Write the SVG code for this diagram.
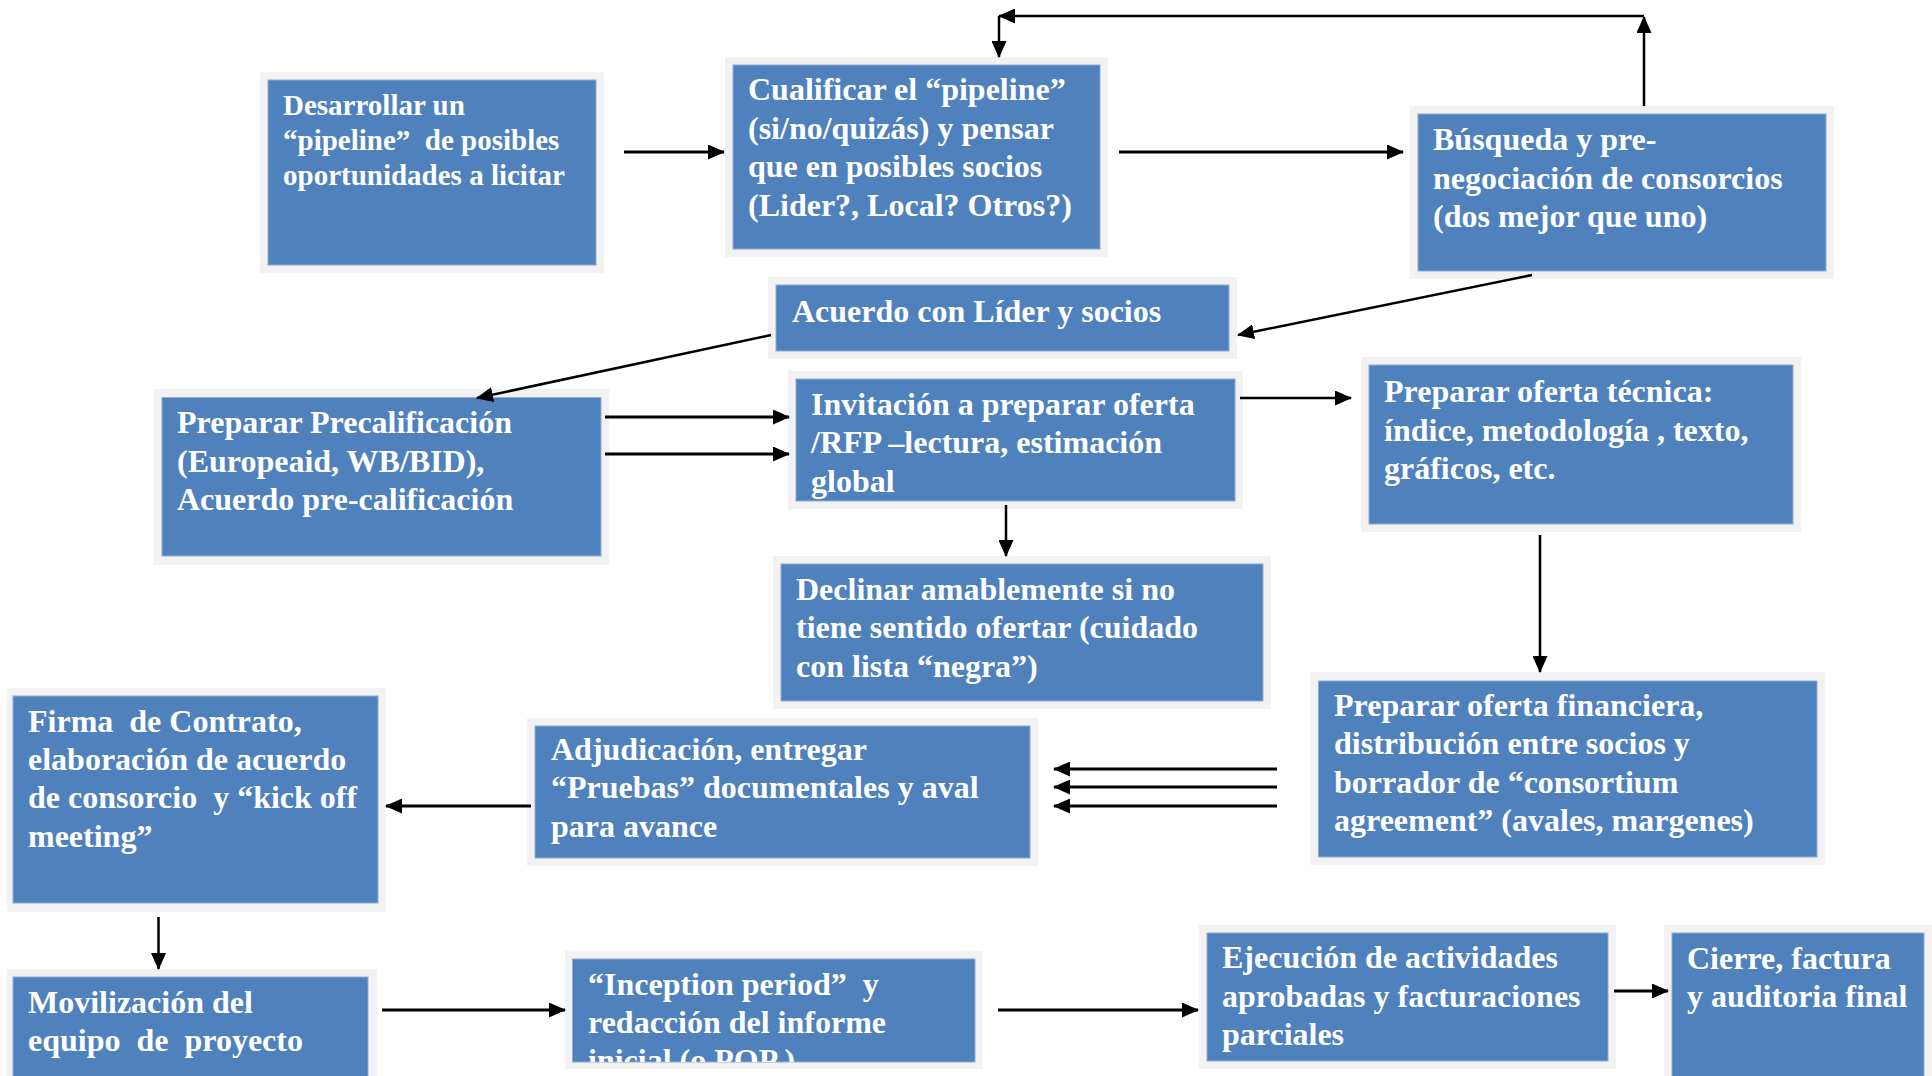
<svg xmlns="http://www.w3.org/2000/svg" width="1932" height="1076" viewBox="0 0 1932 1076">
<style>
.o{fill:#F2F2F2}
.i{fill:#4F81BD;stroke:#8EACD6;stroke-width:1}
.t{font-family:"Liberation Serif","Times New Roman",serif;font-weight:bold;font-size:32px;fill:#FFFFFF}
.s{font-size:29px}
.c{fill:none;stroke:#000;stroke-width:3}
.n{stroke-width:2.5}
</style>
<defs>
<marker id="ah" markerUnits="userSpaceOnUse" markerWidth="17" markerHeight="15" refX="16" refY="7.5" orient="auto"><path d="M0,0 L17,7.5 L0,15 Z" fill="#000"/></marker>
<clipPath id="clipInc"><rect x="572.5" y="959" width="402.5" height="103"/></clipPath>
</defs>
<rect width="1932" height="1076" fill="#FFFFFF"/>
<g id="n1">
<rect class="o" x="260" y="72" width="344" height="201"/>
<rect class="i" x="268" y="80" width="328" height="185"/>
<text class="t s" x="283" y="115" xml:space="preserve">Desarrollar un</text>
<text class="t s" x="283" y="150" xml:space="preserve">“pipeline”  de posibles</text>
<text class="t s" x="283" y="185">oportunidades a licitar</text>
</g>
<g id="n2">
<rect class="o" x="725" y="57" width="383" height="200"/>
<rect class="i" x="733" y="65" width="367" height="184"/>
<text class="t" x="748" y="100">Cualificar el “pipeline”</text>
<text class="t" x="748" y="138.5">(si/no/quizás) y pensar</text>
<text class="t" x="748" y="177">que en posibles socios</text>
<text class="t" x="748" y="215.5">(Lider?, Local? Otros?)</text>
</g>
<g id="n3">
<rect class="o" x="1410" y="106" width="424" height="173"/>
<rect class="i" x="1418" y="114" width="408" height="157"/>
<text class="t" x="1433" y="150">Búsqueda y pre-</text>
<text class="t" x="1433" y="188.5">negociación de consorcios</text>
<text class="t" x="1433" y="227">(dos mejor que uno)</text>
</g>
<g id="n4">
<rect class="o" x="768" y="277" width="469" height="82"/>
<rect class="i" x="776" y="285" width="453" height="66"/>
<text class="t" x="792" y="322">Acuerdo con Líder y socios</text>
</g>
<g id="n5">
<rect class="o" x="154" y="389" width="455" height="176"/>
<rect class="i" x="162" y="397.5" width="439" height="158.5"/>
<text class="t" x="177" y="433.3">Preparar Precalificación</text>
<text class="t" x="177" y="471.7">(Europeaid, WB/BID),</text>
<text class="t" x="177" y="510">Acuerdo pre-calificación</text>
</g>
<g id="n6">
<rect class="o" x="788" y="371" width="455" height="138"/>
<rect class="i" x="796" y="379" width="439" height="122"/>
<text class="t" x="811" y="415">Invitación a preparar oferta</text>
<text class="t" x="811" y="453.3">/RFP –lectura, estimación</text>
<text class="t" x="811" y="491.7">global</text>
</g>
<g id="n7">
<rect class="o" x="1361" y="357" width="440" height="175"/>
<rect class="i" x="1369" y="365" width="424" height="159"/>
<text class="t" x="1384" y="402">Preparar oferta técnica:</text>
<text class="t" x="1384" y="440.5">índice, metodología , texto,</text>
<text class="t" x="1384" y="479">gráficos, etc.</text>
</g>
<g id="n8">
<rect class="o" x="773" y="556" width="498" height="153"/>
<rect class="i" x="781" y="564" width="482" height="137"/>
<text class="t" x="796" y="600">Declinar amablemente si no</text>
<text class="t" x="796" y="638.3">tiene sentido ofertar (cuidado</text>
<text class="t" x="796" y="676.6">con lista “negra”)</text>
</g>
<g id="n9">
<rect class="o" x="1310.5" y="672" width="514.5" height="193"/>
<rect class="i" x="1318.5" y="681" width="498.5" height="176"/>
<text class="t" x="1334" y="715.5">Preparar oferta financiera,</text>
<text class="t" x="1334" y="754">distribución entre socios y</text>
<text class="t" x="1334" y="792.5">borrador de “consortium</text>
<text class="t" x="1334" y="831">agreement” (avales, margenes)</text>
</g>
<g id="n10">
<rect class="o" x="527" y="718" width="511" height="148"/>
<rect class="i" x="535" y="726" width="495" height="132"/>
<text class="t" x="551" y="760">Adjudicación, entregar</text>
<text class="t" x="551" y="798.3">“Pruebas” documentales y aval</text>
<text class="t" x="551" y="836.7">para avance</text>
</g>
<g id="n11">
<rect class="o" x="7" y="688" width="379" height="224"/>
<rect class="i" x="13" y="696" width="365" height="207"/>
<text class="t" x="28" y="731.7" xml:space="preserve">Firma  de Contrato,</text>
<text class="t" x="28" y="770">elaboración de acuerdo</text>
<text class="t" x="28" y="808.3" xml:space="preserve">de consorcio  y “kick off</text>
<text class="t" x="28" y="846.6">meeting”</text>
</g>
<g id="n12">
<rect class="o" x="7" y="969" width="370" height="120"/>
<rect class="i" x="13" y="977" width="355" height="110"/>
<text class="t" x="28" y="1013" xml:space="preserve">Movilización del</text>
<text class="t" x="28" y="1051" xml:space="preserve">equipo  de  proyecto</text>
</g>
<g id="n13">
<rect class="o" x="565" y="951" width="417" height="118"/>
<rect class="i" x="572.5" y="959" width="402.5" height="103"/>
<g clip-path="url(#clipInc)">
<text class="t" x="588" y="995" xml:space="preserve">“Inception period”  y</text>
<text class="t" x="588" y="1033">redacción del informe</text>
<text class="t" x="588" y="1071">inicial (o POP )</text>
</g>
</g>
<g id="n14">
<rect class="o" x="1199" y="925" width="417" height="144"/>
<rect class="i" x="1207" y="933" width="401" height="128"/>
<text class="t" x="1222" y="968.3">Ejecución de actividades</text>
<text class="t" x="1222" y="1006.7">aprobadas y facturaciones</text>
<text class="t" x="1222" y="1045">parciales</text>
</g>
<g id="n15">
<rect class="o" x="1664" y="925" width="268" height="160"/>
<rect class="i" x="1672" y="933" width="252" height="150"/>
<text class="t" x="1687" y="969">Cierre, factura</text>
<text class="t" x="1687" y="1007">y auditoria final</text>
</g>
<g id="connectors">
<path class="c" d="M624,152 H724" marker-end="url(#ah)"/>
<path class="c" d="M1119,152 H1403" marker-end="url(#ah)"/>
<path class="c n" d="M1644,106 V17" marker-end="url(#ah)"/>
<path class="c n" d="M1644,16 H999" marker-end="url(#ah)"/>
<path class="c n" d="M999,16 V57" marker-end="url(#ah)"/>
<path class="c n" d="M1532,275 L1238,335" marker-end="url(#ah)"/>
<path class="c n" d="M771,335 L477,398" marker-end="url(#ah)"/>
<path class="c" d="M605,417 H789" marker-end="url(#ah)"/>
<path class="c" d="M605,454 H789" marker-end="url(#ah)"/>
<path class="c n" d="M1240,398 H1351" marker-end="url(#ah)"/>
<path class="c n" d="M1006,505 V556" marker-end="url(#ah)"/>
<path class="c n" d="M1540,535 V672" marker-end="url(#ah)"/>
<path class="c" d="M1277,769 H1054" marker-end="url(#ah)"/>
<path class="c" d="M1277,787 H1054" marker-end="url(#ah)"/>
<path class="c" d="M1277,806 H1054" marker-end="url(#ah)"/>
<path class="c" d="M531,806 H386" marker-end="url(#ah)"/>
<path class="c n" d="M158.5,917 V969" marker-end="url(#ah)"/>
<path class="c" d="M382,1010 H565" marker-end="url(#ah)"/>
<path class="c" d="M998,1010 H1198" marker-end="url(#ah)"/>
<path class="c" d="M1614,991 H1668" marker-end="url(#ah)"/>
</g>
</svg>
